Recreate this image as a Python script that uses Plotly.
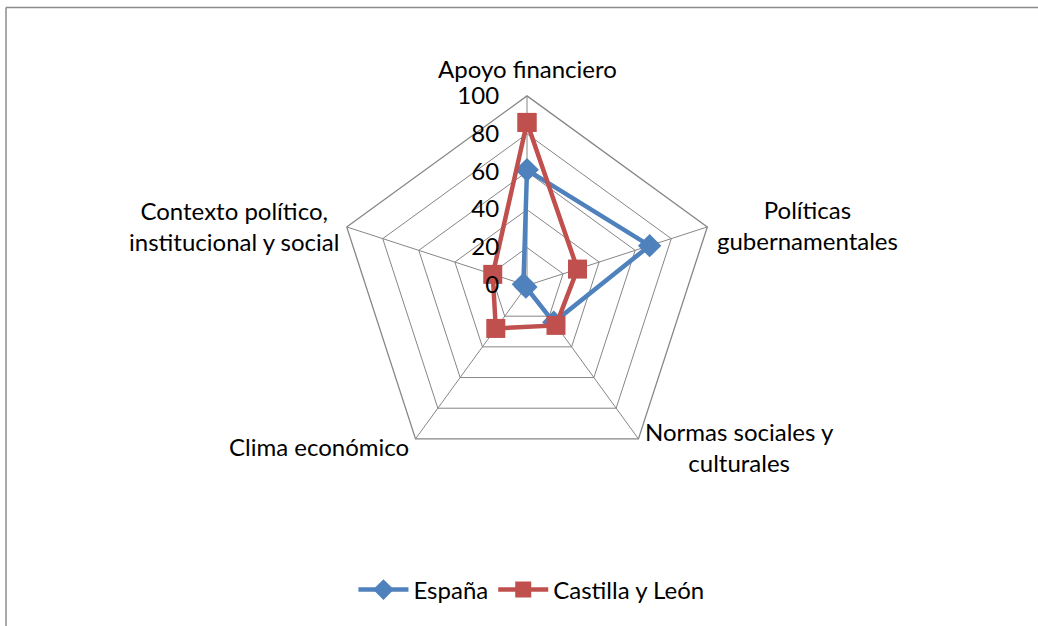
import math
import plotly.graph_objects as go

# Dimensiones del entorno emprendedor
categorias = [
    "Apoyo financiero",
    "Políticas gubernamentales",
    "Normas sociales y culturales",
    "Clima económico",
    "Contexto político, institucional y social",
]
etiquetas = [
    "Apoyo financiero",
    "Políticas<br>gubernamentales",
    "Normas sociales y<br>culturales",
    "Clima económico",
    "Contexto político,<br>institucional y social",
]
espana = [61, 68, 24, 1, 2]
castilla_leon = [86, 28, 26, 28, 19]
ticks_radiales = [0, 20, 40, 60, 80, 100]

AZUL = "#4F81BD"
ROJO = "#C0504D"
GRIS = "#868686"
FUENTE = "Lato"
TAM = 24


def cerrar(valores):
    return valores + valores[:1]


fig = go.Figure()
fig.add_trace(go.Scatterpolar(
    r=cerrar(espana), theta=cerrar(categorias), name="España",
    mode="lines+markers",
    line=dict(color=AZUL, width=4.5),
    marker=dict(symbol="diamond", size=18, color=AZUL),
))
fig.add_trace(go.Scatterpolar(
    r=cerrar(castilla_leon), theta=cerrar(categorias), name="Castilla y León",
    mode="lines+markers",
    line=dict(color=ROJO, width=4.5),
    marker=dict(symbol="square", size=19, color=ROJO),
))

W, H = 1038, 626
cx, cy, R = 527, 285.5, 189.6

# Etiquetas de categoría en el extremo exterior de cada eje
anclajes = [
    dict(xanchor="center", yanchor="bottom", xshift=0, yshift=11),
    dict(xanchor="left", yanchor="middle", xshift=8, yshift=2),
    dict(xanchor="left", yanchor="middle", xshift=5, yshift=-8),
    dict(xanchor="right", yanchor="middle", xshift=-5, yshift=-8),
    dict(xanchor="right", yanchor="middle", xshift=-6, yshift=1),
]
anotaciones = []
for i, (texto, anc) in enumerate(zip(etiquetas, anclajes)):
    ang = math.radians(90 - 72 * i)
    px = cx + R * math.cos(ang)
    py = cy - R * math.sin(ang)
    anotaciones.append(dict(
        text=texto, x=px / W, y=(H - py) / H, xref="paper", yref="paper",
        showarrow=False, align="center",
        font=dict(family=FUENTE, size=TAM, color="black"), **anc,
    ))

fig.update_layout(
    width=W, height=H,
    margin=dict(l=0, r=0, t=0, b=0),
    paper_bgcolor="white",
    plot_bgcolor="white",
    font=dict(family=FUENTE, size=TAM, color="black"),
    polar=dict(
        domain=dict(x=[(cx - R) / W, (cx + R) / W],
                    y=[(H - cy - R) / H, (H - cy + R) / H]),
        gridshape="linear",
        bgcolor="white",
        radialaxis=dict(
            range=[0, 100], tickvals=ticks_radiales,
            angle=90, tickangle=90, side="counterclockwise",
            showline=False, gridcolor=GRIS, gridwidth=1.3,
            ticks="outside", ticklen=19, tickcolor="rgba(0,0,0,0)",
            tickfont=dict(family=FUENTE, size=TAM, color="black"),
        ),
        angularaxis=dict(
            direction="clockwise", rotation=90,
            showline=True, linecolor=GRIS, linewidth=1.3,
            gridcolor=GRIS, gridwidth=1.3, ticks="",
            showticklabels=False,
        ),
    ),
    legend=dict(
        orientation="h", x=0.512, xanchor="center", y=(H - 590) / H, yanchor="middle",
        font=dict(family=FUENTE, size=TAM, color="black"),
        itemwidth=50,
    ),
    annotations=anotaciones,
    shapes=[
        dict(type="line", xref="paper", yref="paper",
             x0=6 / W, x1=1, y0=(H - 7.5) / H, y1=(H - 7.5) / H,
             line=dict(color="#8C8C8C", width=1.5)),
        dict(type="line", xref="paper", yref="paper",
             x0=6 / W, x1=6 / W, y0=0, y1=(H - 7.5) / H,
             line=dict(color="#8C8C8C", width=1.5)),
    ],
)

fig.write_html("out.html")
